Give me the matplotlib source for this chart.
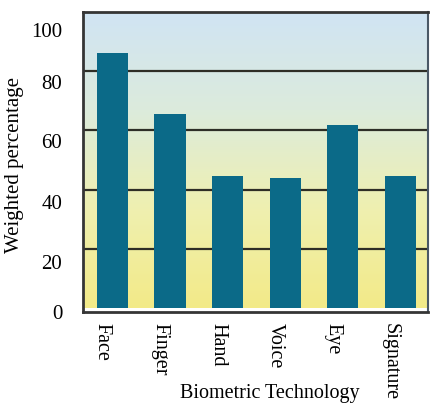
import numpy as np
import matplotlib.pyplot as plt
from matplotlib.colors import LinearSegmentedColormap
from matplotlib.transforms import ScaledTranslation

# Data
technologies = ["Face", "Finger", "Hand", "Voice", "Eye", "Signature"]
weighted_pct = [86.2, 65.5, 44.5, 43.8, 61.8, 44.5]
grid_values = [20, 40, 60, 80]
ytick_labels = ["0", "20", "40", "60", "80", "100"]
# the labels in the original sit a bit below their gridlines
ytick_label_pos = [-1.3, 15.7, 35.7, 56.3, 76.3, 94.0]

plt.rcParams['font.family'] = ['Liberation Serif', 'DejaVu Serif']

fig = plt.figure(figsize=(4.31, 4.04), dpi=100)
ax = fig.add_axes([0.1926, 0.2277, 0.8005, 0.7426])

# background gradient: light blue at top to yellow at bottom
bg = LinearSegmentedColormap.from_list(
    "bg", ["#f3ea88", "#eff0b0", "#dcebdc", "#d0e4f4"])
grad = np.linspace(0, 1, 256).reshape(-1, 1)
ax.imshow(grad, cmap=bg, origin="lower", aspect="auto",
          extent=[-0.51, 5.48, 0, 100], zorder=0)

for v in grid_values:
    ax.axhline(v, color="#2e2e26", lw=1.6, zorder=1)

x = np.arange(len(technologies))
ax.bar(x, weighted_pct, width=0.54, color="#0b6a88", zorder=2)

ax.set_xlim(-0.51, 5.48)
ax.set_ylim(0, 100)

ax.set_yticks(ytick_label_pos)
ax.set_yticklabels(ytick_labels, fontsize=15)
ax.tick_params(axis="y", length=0, pad=15)

ax.set_xticks(x)
ax.set_xticklabels(technologies, rotation=270, fontsize=14.5, va="top")
ax.tick_params(axis="x", length=0, pad=8)
shift = ScaledTranslation(-10 / 100, 0, fig.dpi_scale_trans)
for lbl in ax.get_xticklabels():
    lbl.set_transform(lbl.get_transform() + shift)

ax.set_ylabel("Weighted percentage", fontsize=15)
ax.yaxis.set_label_coords(-0.172, 0.49)
ax.set_xlabel("Biometric Technology", fontsize=14.5)
ax.xaxis.set_label_coords(0.54, -0.24)

for side in ["top", "left", "bottom"]:
    ax.spines[side].set_color("#353535")
    ax.spines[side].set_linewidth(2)
ax.spines["right"].set_color("#4a5866")
ax.spines["right"].set_linewidth(1.5)

fig.savefig("out.png", dpi=100)
